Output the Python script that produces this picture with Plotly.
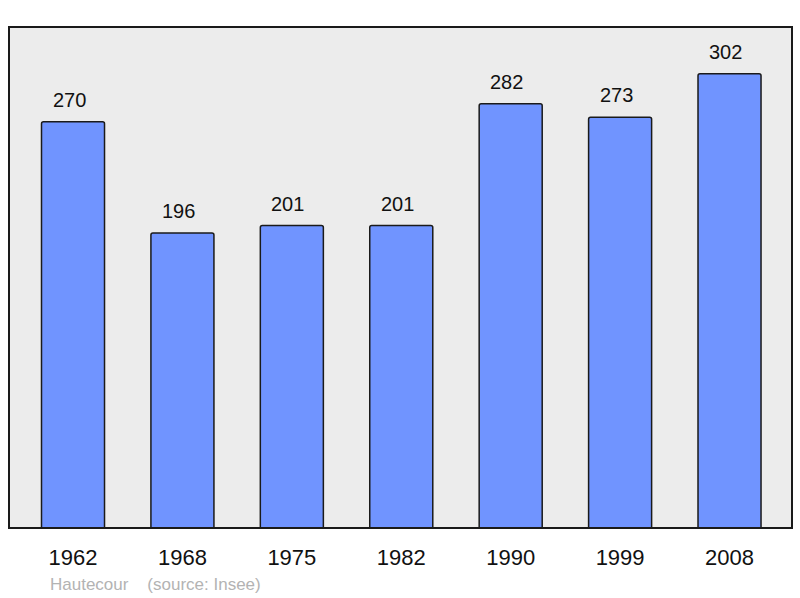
import plotly.graph_objects as go

years = ["1962", "1968", "1975", "1982", "1990", "1999", "2008"]
population = [270, 196, 201, 201, 282, 273, 302]
source_text = "Hautecour    (source: Insee)"

FONT = "Liberation Sans, Arial, sans-serif"

fig = go.Figure()
fig.add_trace(go.Bar(
    x=years, y=population,
    width=0.576,
    marker=dict(color="#7094ff", line=dict(color="#1a1a1a", width=1.5), cornerradius=2),
    hoverinfo="x+y",
))

annotations = [dict(x=i, y=v, xref="x", yref="y", text=str(v), showarrow=False,
                    yanchor="bottom", yshift=9, xshift=-4,
                    font=dict(family=FONT, size=20, color="#111"))
               for i, v in enumerate(population)]
annotations.append(dict(text=source_text, xref="paper", yref="paper", x=0.0498, y=-0.112,
                        xanchor="left", yanchor="middle", showarrow=False,
                        font=dict(family=FONT, size=17, color="#b3b3b3")))

fig.update_layout(
    width=800, height=598,
    margin=dict(l=9, r=8, t=27, b=70, autoexpand=False),
    paper_bgcolor="white",
    plot_bgcolor="#ececec",
    showlegend=False,
    font=dict(family=FONT),
    xaxis=dict(type="category", range=[-0.585, 6.571], showgrid=False, zeroline=False,
               showline=False, ticks="",
               tickfont=dict(size=22, color="#111"), ticklabelstandoff=14),
    yaxis=dict(range=[0, 333], showgrid=False, zeroline=False, showticklabels=False,
               showline=False, ticks=""),
    shapes=[dict(type="rect", xref="paper", yref="paper", x0=0, x1=1, y0=0, y1=1,
                 line=dict(color="#1a1a1a", width=2), fillcolor="rgba(0,0,0,0)", layer="above")],
    annotations=annotations,
)

fig.write_html("out.html", config={"displayModeBar": False},
               post_script="document.body.style.margin='0';document.body.style.overflow='hidden';")
